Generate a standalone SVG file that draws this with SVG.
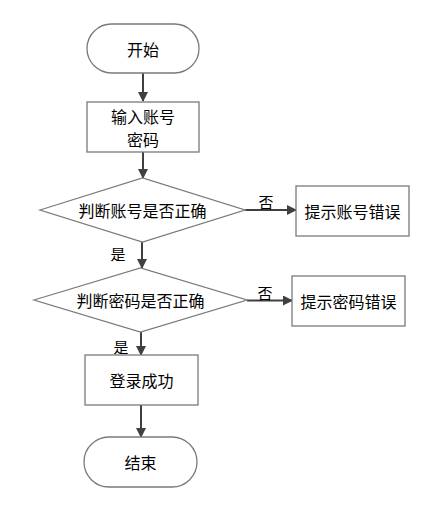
<svg xmlns="http://www.w3.org/2000/svg" width="441" height="506" viewBox="0 0 441 506">
<defs>
<marker id="ah" viewBox="0 0 10 10" refX="9" refY="5" markerWidth="10" markerHeight="10" markerUnits="userSpaceOnUse" orient="auto">
<path d="M0,0 L10,5 L0,10 Z" fill="#404040"/>
</marker>
</defs>
<style>
.s{fill:#fff;stroke:#7a7a7a;stroke-width:1.3}
.t{font-family:"Noto Sans CJK SC","Noto Sans",sans-serif;font-size:16px;fill:#000;text-anchor:middle;dominant-baseline:central}
.l{font-family:"Noto Sans CJK SC","Noto Sans",sans-serif;font-size:15px;fill:#000;text-anchor:middle;dominant-baseline:central}
.c{fill:none;stroke:#404040;stroke-width:2;marker-end:url(#ah)}
</style>
<rect width="441" height="506" fill="#fff"/>
<g id="connectors">
<line class="c" x1="143" y1="73" x2="143" y2="101"/>
<line class="c" x1="143" y1="152" x2="143" y2="178"/>
<line class="c" x1="142" y1="242" x2="142" y2="268"/>
<line class="c" x1="141" y1="332" x2="141" y2="355"/>
<line class="c" x1="141" y1="405" x2="141" y2="437"/>
<line class="c" x1="245" y1="210" x2="296" y2="210"/>
<line class="c" x1="247" y1="300.5" x2="292" y2="300.5"/>
<text class="l" x="118" y="253">是</text>
<text class="l" x="121" y="346">是</text>
<text class="l" x="266" y="201">否</text>
<text class="l" x="265" y="292">否</text>
</g>
<g id="start">
<rect class="s" x="87" y="24" width="112" height="49" rx="24.5"/>
<text class="t" x="143" y="48.5">开始</text>
</g>
<g id="input">
<rect class="s" x="87" y="102" width="112" height="50"/>
<text class="t" x="143" y="115.5">输入账号</text>
<text class="t" x="143" y="138.5">密码</text>
</g>
<g id="check-account">
<polygon class="s" points="40,210 142.5,178 245,210 142.5,242"/>
<text class="t" x="142.5" y="210">判断账号是否正确</text>
</g>
<g id="account-error">
<rect class="s" x="296" y="186" width="113" height="50"/>
<text class="t" x="352.5" y="211">提示账号错误</text>
</g>
<g id="check-password">
<polygon class="s" points="34,300 140.5,268 247,300 140.5,332"/>
<text class="t" x="140.5" y="300">判断密码是否正确</text>
</g>
<g id="password-error">
<rect class="s" x="292" y="276" width="113" height="50"/>
<text class="t" x="348.5" y="301">提示密码错误</text>
</g>
<g id="success">
<rect class="s" x="85" y="355" width="113" height="50"/>
<text class="t" x="141.5" y="380">登录成功</text>
</g>
<g id="end">
<rect class="s" x="84" y="437" width="113" height="50" rx="25"/>
<text class="t" x="140.5" y="462">结束</text>
</g>
</svg>
